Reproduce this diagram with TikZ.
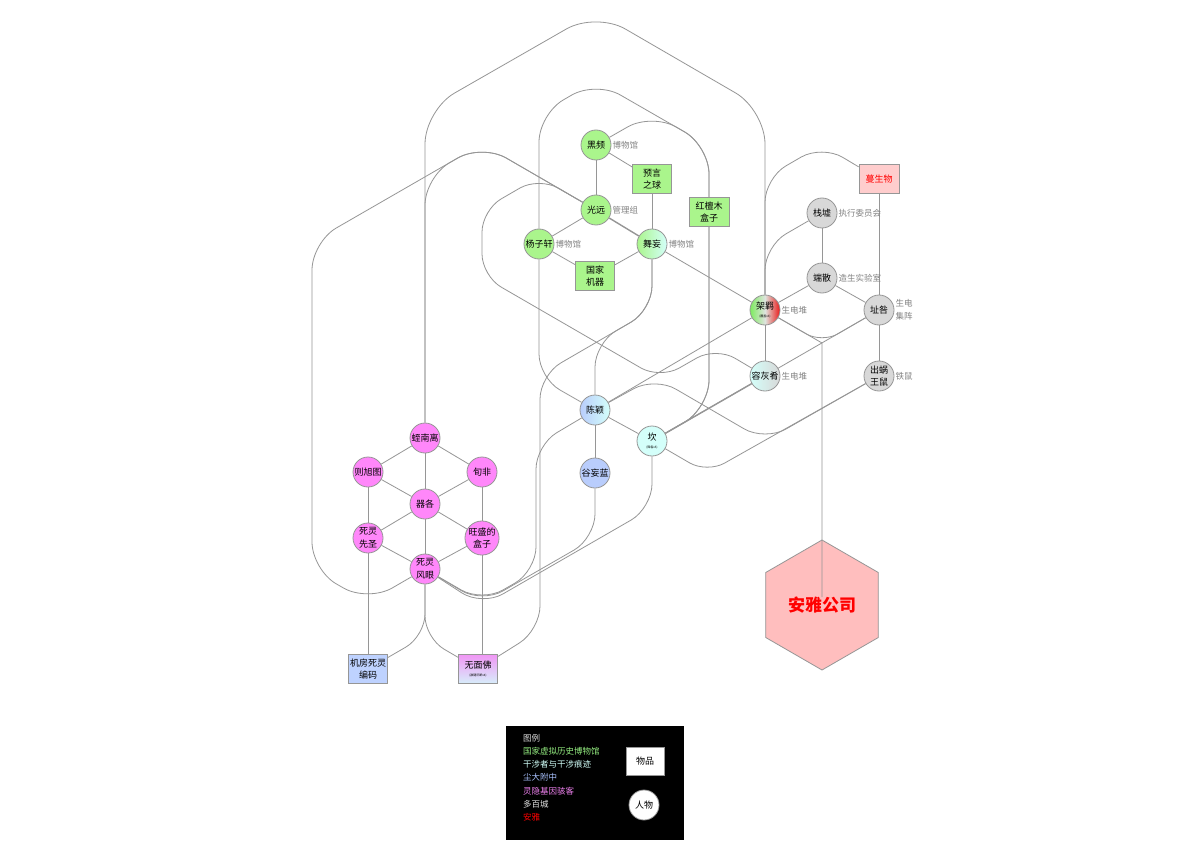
\documentclass[tikz,border=0pt]{standalone}
\usepackage{fontspec}
\setmainfont{Noto Sans CJK SC}
\usepackage{xcolor}
\usepackage{tikz}
\usetikzlibrary{positioning,backgrounds,shapes.geometric}

\definecolor{edgegray}{RGB}{150,150,150}
\definecolor{rimgray}{RGB}{150,150,150}
\definecolor{taggray}{RGB}{130,130,130}
\definecolor{museum}{RGB}{170,245,140}
\definecolor{meddler}{RGB}{212,255,250}
\definecolor{school}{RGB}{185,205,252}
\definecolor{hacker}{RGB}{255,135,250}
\definecolor{city}{RGB}{216,216,216}
\definecolor{anyapink}{RGB}{255,190,190}
\definecolor{anyabox}{RGB}{255,205,205}
\definecolor{codeblue}{RGB}{190,210,255}
\definecolor{lgmuseum}{RGB}{150,240,130}
\definecolor{lgmeddler}{RGB}{210,255,250}
\definecolor{lgschool}{RGB}{170,195,255}
\definecolor{lghacker}{RGB}{240,130,240}
\definecolor{lgcity}{RGB}{225,225,225}

\tikzset{
	person/.style={circle, draw=rimgray, line width=0.8pt, minimum size=30pt, inner sep=0pt, align=center, font=\fontsize{9}{12.5}\selectfont},
	thing/.style={rectangle, draw=rimgray, line width=0.8pt, minimum width=39pt, minimum height=29pt, inner sep=0pt, align=center, font=\fontsize{9}{12.5}\selectfont},
	tag/.style={text=taggray, inner sep=0pt, align=left, font=\fontsize{8.5}{13}\selectfont},
	link/.style={draw=edgegray, line width=0.8pt},
	curvy/.style={link, rounded corners=28pt},
}
\newcommand{\tinynote}[1]{\\[-4pt]{\fontsize{3}{3}\selectfont #1}}

\begin{document}
\begin{tikzpicture}[x=1pt, y=-1pt]
	\useasboundingbox (0,0) rectangle (1190,842);

	\node[person, fill=museum] (heipin) at (596,145) {黑频};
	\node[thing, fill=museum] (yuyan) at (652,179) {预言\\之球};
	\node[person, fill=museum] (guangyuan) at (596,210) {光远};
	\node[person, fill=museum] (yangzixuan) at (539,244) {杨子轩};
	\node[person, left color=museum, right color=meddler] (wuwang) at (652,244) {舞妄};
	\node[thing, fill=museum] (guojia) at (595,276) {国家\\机器};
	\node[thing, fill=museum, minimum width=40pt] (hongtan) at (709,212) {红檀木\\盒子};

	\node[person, left color={rgb,255:red,125;green,235;blue,95}, right color={rgb,255:red,235;green,25;blue,25}, middle color={rgb,255:red,222;green,228;blue,222}] (jiaji) at (765,310) {架羁\tinynote{(覆盖v3)}};
	\node[person, fill=city] (zhanxu) at (822,213) {栈墟};
	\node[thing, fill=anyabox, text=red, minimum width=40pt] (mansheng) at (879,179) {蔓生物};
	\node[person, fill=city] (duansan) at (822,278) {端散};
	\node[person, fill=city] (zhijiu) at (879,310) {址咎};
	\node[person, left color=meddler, right color=city] (ronghui) at (765,376) {容灰肴};
	\node[person, fill=city] (chuwo) at (879,376) {出蜗\\王鼠};

	\node[person, left color=school, right color=meddler] (chenying) at (595,410) {陈颖};
	\node[person, fill=meddler] (kan) at (652,441) {坎\tinynote{(降临v5)}};
	\node[person, fill=school] (guwang) at (595,473) {谷妄蓝};

	\node[person, fill=hacker] (zhinanli) at (425,438) {蛭南离};
	\node[person, fill=hacker] (zexu) at (368,472) {则旭图};
	\node[person, fill=hacker] (xunfei) at (482,472) {旬非};
	\node[person, fill=hacker] (qige) at (425,504) {器各};
	\node[person, fill=hacker] (silingxs) at (368,538) {死灵\\先圣};
	\node[person, fill=hacker] (wangsheng) at (482,538) {旺盛的\\盒子};
	\node[person, fill=hacker] (silingfy) at (425,569) {死灵\\风眼};
	\node[thing, fill=codeblue] (jifang) at (368,669) {机房死灵\\编码};
	\node[thing, top color={rgb,255:red,240;green,150;blue,245}, bottom color={rgb,255:red,215;green,238;blue,250}] (wumian) at (478,669) {无面佛\tinynote{(敌键讯断v4)}};

	\node[regular polygon, regular polygon sides=6, shape border rotate=30, minimum size=130pt, inner sep=0pt, draw=rimgray, line width=0.8pt, fill=anyapink, text=red, font=\fontsize{17}{20}\selectfont\bfseries] (anya) at (822,605) {安雅公司};

	\node[tag, right=1pt of heipin] (heipintag) {博物馆};
	\node[tag, right=1pt of guangyuan] (guangyuantag) {管理组};
	\node[tag, right=1pt of yangzixuan] (yangzixuantag) {博物馆};
	\node[tag, right=1pt of wuwang] (wuwangtag) {博物馆};
	\node[tag, right=1pt of jiaji] (jiajitag) {生电堆};
	\node[tag, right=1pt of zhanxu] (zhanxutag) {执行委员会};
	\node[tag, right=1pt of duansan] (duansantag) {造生实验室};
	\node[tag, right=1pt of zhijiu] (zhijiutag) {生电\\集阵};
	\node[tag, right=1pt of ronghui] (ronghuitag) {生电堆};
	\node[tag, right=1pt of chuwo] (chuwotag) {铁鼠};

	\node[fill=black, minimum width=178pt, minimum height=114pt, inner sep=0pt] (legend) at (595,783) {};
	\node[anchor=north west, align=left, inner sep=0pt, font=\fontsize{8.5}{13.2}\selectfont] (legendlist) at (523,734)
		{\textcolor{lgcity}{图例}\\\textcolor{lgmuseum}{国家虚拟历史博物馆}\\\textcolor{lgmeddler}{干涉者与干涉痕迹}\\\textcolor{lgschool}{尘大附中}\\\textcolor{lghacker}{灵隐基因骇客}\\\textcolor{lgcity}{多百城}\\\textcolor{red}{安雅}};
	\node[thing, fill=white, minimum width=38pt, minimum height=28pt] (keything) at (645,761) {物品};
	\node[person, fill=white] (keyperson) at (644,805) {人物};

	\draw[link] (jiaji) -- (822,343) -- ([yshift=8pt]anya.center);

	\begin{scope}[on background layer]
		\fill[white] (0,0) rectangle (1190,842);
		\draw[link] (heipin) -- (guangyuan);
		\draw[link] (heipin) -- (yuyan);
		\draw[link] (yuyan) -- (wuwang);
		\draw[link] (guangyuan) -- (yangzixuan);
		\draw[link, line width=1.4pt] (guangyuan) -- (wuwang);
		\draw[link] (yangzixuan) -- (guojia);
		\draw[link] (guojia) -- (wuwang);
		\draw[link] (wuwang) -- (jiaji);
		\draw[link] (jiaji) -- (duansan);
		\draw[link] (zhanxu) -- (duansan);
		\draw[link] (duansan) -- (zhijiu);
		\draw[link] (mansheng) -- (zhijiu);
		\draw[link] (zhijiu) -- (chuwo);
		\draw[link] (jiaji) -- (ronghui);
		\draw[link] (kan) -- (zhijiu);
		\draw[link, line width=1.4pt] (kan) -- (ronghui);
		\draw[link] (jiaji) -- (chenying);
		\draw[link] (chenying) -- (kan);
		\draw[link] (chenying) -- (guwang);

		\draw[link] (zhinanli) -- (zexu);
		\draw[link] (zhinanli) -- (xunfei);
		\draw[link] (zhinanli) -- (qige);
		\draw[link] (zexu) -- (qige);
		\draw[link] (xunfei) -- (qige);
		\draw[link] (zexu) -- (silingxs);
		\draw[link] (xunfei) -- (wangsheng);
		\draw[link] (qige) -- (silingxs);
		\draw[link] (qige) -- (wangsheng);
		\draw[link] (qige) -- (silingfy);
		\draw[link] (silingxs) -- (silingfy);
		\draw[link] (wangsheng) -- (silingfy);
		\draw[link] (silingxs) -- (jifang);
		\draw[link] (wangsheng.south) -- (wangsheng.south |- wumian.north);

		\draw[curvy, rounded corners=34pt] (zhinanli) -- (425,110) -- (596,12) -- (765,110) -- (jiaji);
		\draw[curvy] (yangzixuan) -- (539,114) -- (596,81) -- (709,146) -- (709,408) -- (kan);
		\draw[curvy] (heipin) -- (652,113) -- (709,146) -- (709,408) -- (kan);
		\draw[curvy] (silingfy) -- (368,602) -- (312,570) -- (312,242) -- (482,144) -- (guangyuan);
		\draw[curvy] (guangyuan) -- (482,144) -- (425,177) -- (zhinanli);
		\draw[curvy, rounded corners=22pt] (guangyuan) -- (539,177) -- (482,210) -- (482,276) -- (660,379) -- (716,347) -- (ronghui);
		\draw[curvy, rounded corners=24pt] (yangzixuan) -- (539,378) -- (chenying);
		\draw[curvy, rounded corners=24pt] (wuwang) -- (652,310) -- (595,343) -- (chenying);
		\draw[curvy, rounded corners=24pt] (wuwang) -- (652,310) -- (540,375) -- (540,630) -- (wumian);
		\draw[curvy, rounded corners=24pt] (chenying) -- (536,445) -- (536,571) -- (482,602) -- (silingfy);
		\draw[curvy, rounded corners=24pt] (guwang) -- (595,538) -- (482,603) -- (silingfy);
		\draw[curvy, rounded corners=24pt] (kan) -- (652,508) -- (482,606) -- (silingfy);
		\draw[curvy, rounded corners=24pt] (chenying) -- (655,377) -- (765,441) -- (chuwo);
		\draw[curvy, rounded corners=20pt] (kan) -- (707,473) -- (chuwo);
		\draw[curvy, rounded corners=24pt] (jiaji) -- (765,246) -- (zhanxu);
		\draw[curvy, rounded corners=24pt] (jiaji) -- (765,178) -- (822,145) -- (mansheng);
		\draw[curvy, rounded corners=18pt] (jiaji) -- (822,343) -- (zhijiu);
		\draw[curvy, rounded corners=22pt] (silingfy) -- (425,636) -- (jifang);
		\draw[curvy, rounded corners=22pt] (silingfy) -- (425,638) -- (wumian);
	\end{scope}
\end{tikzpicture}
\end{document}
